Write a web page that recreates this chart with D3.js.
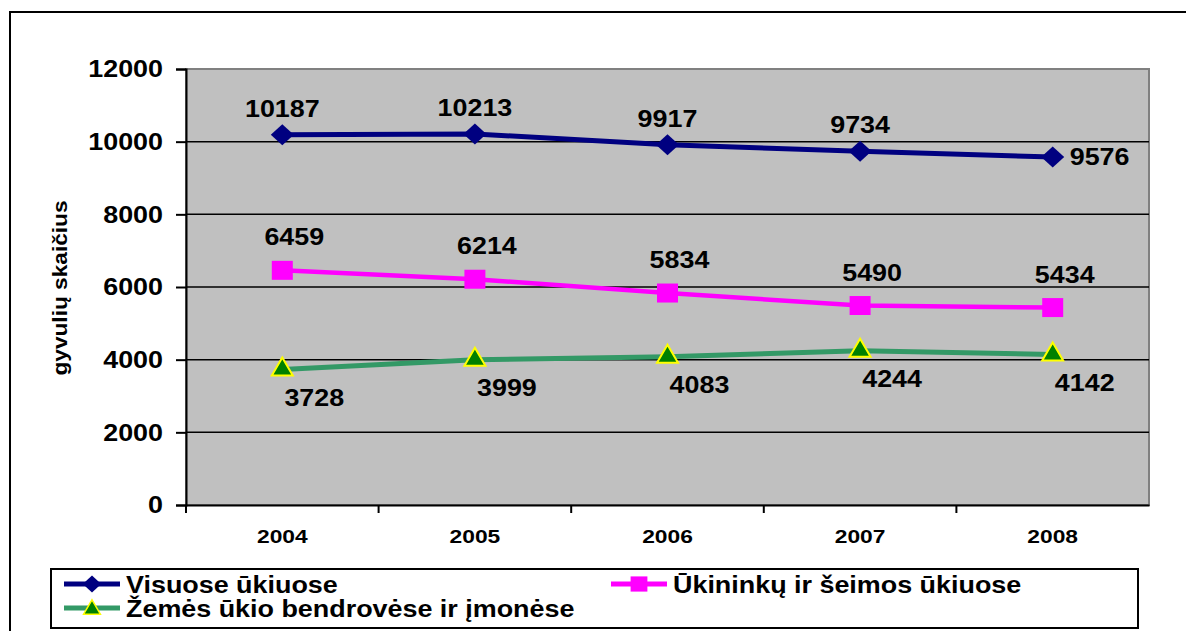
<!DOCTYPE html>
<html>
<head>
<meta charset="utf-8">
<script src="https://cdn.jsdelivr.net/npm/d3@7"></script>
<style>
body { margin: 0; background: #fff; }
text { font-family: "Liberation Sans", Arial, sans-serif; font-weight: bold; fill: #000; }
</style>
</head>
<body>
<div id="chart"></div>
<script>
// data
var years = ["2004", "2005", "2006", "2007", "2008"];
var visuose = [10187, 10213, 9917, 9734, 9576];
var ukininku = [6459, 6214, 5834, 5490, 5434];
var bendroves = [3728, 3999, 4083, 4244, 4142];
var seriesNames = ["Visuose ūkiuose", "Ūkininkų ir šeimos ūkiuose", "Žemės ūkio bendrovėse ir įmonėse"];
var yTicks = [0, 2000, 4000, 6000, 8000, 10000, 12000];

var width = 1186, height = 631;
var stretch = 1.12; // text in the picture is drawn a bit wide

var svg = d3.select("#chart").append("svg")
	.attr("width", width)
	.attr("height", height);

// outer frame
svg.append("rect")
	.attr("x", 10).attr("y", 12)
	.attr("width", width + 20).attr("height", height + 20)
	.style("fill", "#fff").style("stroke", "#000").style("stroke-width", 2);

var plot = {left: 186, top: 69, right: 1149, bottom: 505};

var x = d3.scaleBand().domain(years).range([plot.left, plot.right]);
var y = d3.scaleLinear().domain([0, 12000]).range([plot.bottom, plot.top]);

// plot background
svg.append("rect")
	.attr("x", plot.left).attr("y", plot.top)
	.attr("width", plot.right - plot.left).attr("height", plot.bottom - plot.top)
	.style("fill", "#c0c0c0").style("stroke", "#808080").style("stroke-width", 2);

// gridlines
svg.append("g").selectAll("line")
	.data(yTicks.slice(1, -1))
	.enter().append("line")
	.attr("x1", plot.left).attr("x2", plot.right)
	.attr("y1", function(d){ return y(d); }).attr("y2", function(d){ return y(d); })
	.style("stroke", "#000").style("stroke-width", 1.5);

// y axis
var yAxis = svg.append("g")
	.attr("transform", "translate(" + plot.left + ",0)")
	.call(d3.axisLeft(y).tickValues(yTicks).tickSize(10).tickPadding(0).tickFormat(d3.format("d")));
yAxis.selectAll("text")
	.attr("x", 0)
	.attr("transform", "translate(-23,0) scale(" + stretch + ",1)")
	.style("font-size", "24px");

// x axis
var xAxis = svg.append("g")
	.attr("transform", "translate(0," + plot.bottom + ")")
	.call(d3.axisBottom(x).tickSize(0).tickPadding(0));
xAxis.selectAll("text")
	.attr("y", 0).attr("dy", 0)
	.attr("transform", "translate(0,38) scale(1.2,1)")
	.style("font-size", "19px");
xAxis.selectAll(".tick").append("line")
	.attr("x1", -x.bandwidth() / 2).attr("x2", -x.bandwidth() / 2)
	.attr("y1", 0).attr("y2", 8);
xAxis.append("line")
	.attr("x1", plot.right).attr("x2", plot.right).attr("y1", 0).attr("y2", 8);

svg.selectAll(".domain, .tick line").style("stroke", "#000").style("stroke-width", 2);

// axis title
svg.append("text")
	.attr("transform", "translate(67,288) rotate(-90) scale(1.08,1)")
	.style("text-anchor", "middle")
	.style("font-size", "21px")
	.text("gyvulių skaičius");

function cx(i){ return x(years[i]) + x.bandwidth() / 2; }

// marker shapes
function diamond(w, h){ return "M0," + (-h/2) + "L" + (w/2) + ",0L0," + (h/2) + "L" + (-w/2) + ",0Z"; }
function square(w, h){ return "M" + (-w/2) + "," + (-h/2) + "h" + w + "v" + h + "h" + (-w) + "Z"; }
function triangle(w, h){ return "M0," + (-h/2) + "L" + (w/2) + "," + (h/2) + "L" + (-w/2) + "," + (h/2) + "Z"; }

var series = [
	{name: seriesNames[0], values: visuose, line: "#000080", fill: "#000080", stroke: "none", sym: diamond, mw: 23, mh: 21, lw: 5, dx: 0, dy: -18},
	{name: seriesNames[1], values: ukininku, line: "#ff00ff", fill: "#ff00ff", stroke: "none", sym: square, mw: 21, mh: 19, lw: 4.5, dx: 12, dy: -25},
	{name: seriesNames[2], values: bendroves, line: "#339966", fill: "#008000", stroke: "#ffff00", sym: triangle, mw: 21, mh: 18, lw: 5, dx: 32, dy: 36}
];

var line = d3.line()
	.x(function(d, i){ return cx(i); })
	.y(function(d){ return y(d); });

series.forEach(function(s, si){
	var g = svg.append("g");
	g.append("path")
		.attr("d", line(s.values))
		.style("fill", "none")
		.style("stroke", s.line)
		.style("stroke-width", s.lw);
	g.selectAll(".mark")
		.data(s.values)
		.enter().append("path")
		.attr("class", "mark")
		.attr("d", s.sym(s.mw, s.mh))
		.attr("transform", function(d, i){ return "translate(" + cx(i) + "," + (y(d) - (si == 2 ? 3 : 0)) + ")"; })
		.style("fill", s.fill)
		.style("stroke", s.stroke)
		.style("stroke-width", 2);
	g.selectAll(".lbl")
		.data(s.values)
		.enter().append("text")
		.attr("class", "lbl")
		.style("font-size", "24px")
		.style("text-anchor", function(d, i){ return (si == 0 && i == 4) ? "start" : "middle"; })
		.attr("transform", function(d, i){
			var px = (si == 0 && i == 4) ? cx(i) + 17 : cx(i) + s.dx;
			var py = (si == 0 && i == 4) ? y(d) + 8 : y(d) + s.dy;
			return "translate(" + px + "," + py + ") scale(" + stretch + ",1)";
		})
		.text(function(d){ return d; });
});

// legend
var legend = svg.append("g");
legend.append("rect")
	.attr("x", 51).attr("y", 569)
	.attr("width", 1087).attr("height", 59)
	.style("fill", "#fff").style("stroke", "#000").style("stroke-width", 2);

var legPos = [[64, 584], [611, 584], [64, 608]];
series.forEach(function(s, si){
	var p = legPos[si];
	var lg = legend.append("g").attr("transform", "translate(" + p[0] + "," + p[1] + ")");
	lg.append("line")
		.attr("x1", 0).attr("x2", 56)
		.style("stroke", s.line).style("stroke-width", 5);
	lg.append("path")
		.attr("d", s.sym(s.mw * 0.8, s.mh * 0.8))
		.attr("transform", "translate(28," + (si == 2 ? -1 : 0) + ")")
		.style("fill", s.fill).style("stroke", s.stroke).style("stroke-width", 1.5);
	lg.append("text")
		.attr("transform", "translate(62,9) scale(1.17,1)")
		.style("font-size", "23px")
		.text(s.name);
});
</script>
</body>
</html>
